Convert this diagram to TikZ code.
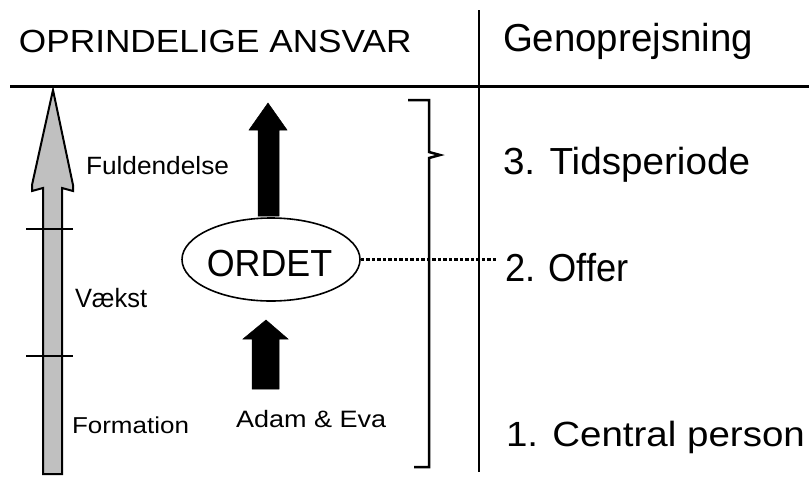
\documentclass[tikz,border=0pt]{standalone}
\usepackage{fontspec}
\setmainfont{Liberation Sans}
\usetikzlibrary{shapes.geometric}
\definecolor{arrowgrey}{HTML}{C0C0C0}
\newcommand{\fs}[1]{\fontsize{#1}{#1}\selectfont}
\tikzset{
  txt/.style={inner sep=0pt, outer sep=0pt, anchor=base west},
  rule/.style={line width=2.2pt, black},
  tickmark/.style={line width=2pt, black},
  blockarrow/.style={fill=black, draw=black, line width=0.5pt},
  greyarrow/.style={fill=arrowgrey, draw=black, line width=2pt, line join=miter},
  bracketline/.style={line width=2.5pt, black, line join=miter},
  dotline/.style={line width=2.2pt, dash pattern=on 3.5pt off 2pt}
}
\begin{document}
\begin{tikzpicture}[x=1pt,y=-1pt]
\useasboundingbox (0,0) rectangle (809,477);
% header
\node[txt] (hleft) at (19,52) {\fs{32}\scalebox{1.10}[1]{OPRINDELIGE ANSVAR}};
\node[txt] (hright) at (503,51) {\fs{39}\scalebox{0.985}[1]{Genoprejsning}};
\draw[line width=3pt] (10,86) -- (809,86);
\draw[rule] (479,10) -- (479,472);
% grey arrow
\draw[greyarrow] (53,90) -- (73,185) -- (73,191) -- (62,188) -- (62,474) -- (43,474) -- (43,188) -- (32,191) -- (32,185) -- cycle;
\draw[tickmark] (26,229) -- (73,229);
\draw[tickmark] (26,356) -- (73,356);
% left labels
\node[txt] (fuld) at (86,174) {\fs{25}\scalebox{1.05}[1]{Fuldendelse}};
\node[txt] (vaekst) at (75,307) {\fs{26.5}\scalebox{0.96}[1]{Vækst}};
\node[txt] (form) at (72,433) {\fs{23}\scalebox{1.13}[1]{Formation}};
\node[txt] (adam) at (236,427) {\fs{23.7}\scalebox{1.14}[1]{Adam \& Eva}};
% ellipse
\node[ellipse, draw, line width=1.6pt, minimum width=178pt, minimum height=83pt, inner sep=0pt] (ordet) at (271,259.5) {};
\node[inner sep=0pt, anchor=base] (ordettext) at (269.5,276) {\fs{37.7}\scalebox{0.95}[1]{ORDET}};
% black arrows
\draw[blockarrow] (268,103) -- (287,130) -- (279,130) -- (279,216) -- (258,216) -- (258,130) -- (249,130) -- cycle;
\draw[blockarrow] (266,320) -- (288,339) -- (279,339) -- (279,389) -- (252,389) -- (252,339) -- (243,339) -- cycle;
% bracket
\draw[bracketline] (408,100) -- (429,100) -- (429,152) -- (440,155) -- (429,158) -- (429,467) -- (414,467);
% right labels
\node[txt] (tid) at (503,174) {\fs{37.7}\scalebox{1.025}[1]{3. Tidsperiode}};
\node[txt] (offer) at (505,281) {\fs{39}\scalebox{0.93}[1]{2. Offer}};
\node[txt] (central) at (506,446) {\fs{35}\scalebox{1.10}[1]{1. Central person}};
% dotted connector
\coordinate (dotend) at (497,259.5);
\draw[dotline] (ordet.east) -- (dotend);
\end{tikzpicture}
\end{document}
